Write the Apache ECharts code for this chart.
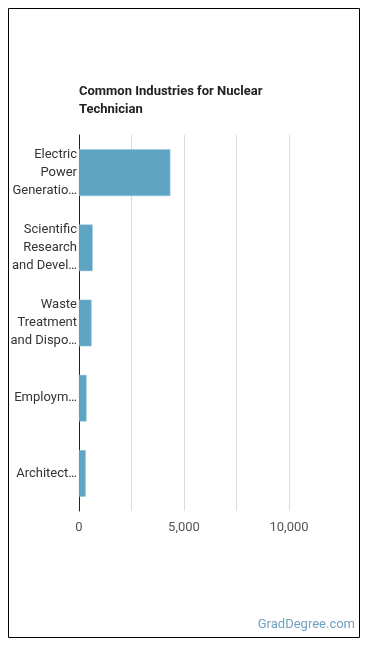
<!DOCTYPE html>
<html>
<head>
<meta charset="utf-8">
<script src="https://cdn.jsdelivr.net/npm/echarts@6/dist/echarts.min.js"></script>
<style>
  html, body { margin: 0; padding: 0; background: #fff; }
  #chart { width: 370px; height: 648px; }
</style>
</head>
<body>
<div id="chart"></div>
<script>
// categories as shown on the axis (already wrapped / cut like the picture)
var industries = [
    'Electric\nPower\nGeneratio…',
    'Scientific\nResearch\nand Devel…',
    'Waste\nTreatment\nand Dispo…',
    'Employm…',
    'Architect…'
];
var workers = [4350, 650, 600, 360, 320];   // rough reading off the bars
var tickValues = [0, 5000, 10000];            // labelled ticks, grid every 2500

var myChart = echarts.init(document.getElementById('chart'));

myChart.setOption({
    animation: false,
    backgroundColor: '#fff',
    graphic: [
        {   // outer frame
            type: 'rect',
            shape: { x: 8.5, y: 8.5, width: 351, height: 629 },
            style: { fill: 'none', stroke: '#000', lineWidth: 1 }
        },
        {
            type: 'text',
            left: 79, top: 83,
            style: {
                text: 'Common Industries for Nuclear\nTechnician',
                font: 'bold 13px Roboto, sans-serif',
                lineHeight: 18,
                fill: '#222'
            }
        },
        {
            type: 'text',
            right: 15, top: 618,
            style: {
                text: 'GradDegree.com',
                font: '13px Roboto, sans-serif',
                fill: '#6fa2c0'
            }
        }
    ],
    grid: { left: 79, right: 81, top: 135, bottom: 137 },
    xAxis: {
        type: 'value',
        min: 0, max: 10000, interval: 2500,
        axisLine: { show: false },
        axisTick: { show: false },
        splitLine: { lineStyle: { color: '#dcdcdc' } },
        axisLabel: {
            color: '#555',
            fontFamily: 'Roboto, sans-serif',
            fontSize: 13,
            margin: 10,
            formatter: function (v) {
                return tickValues.indexOf(v) >= 0 ? echarts.format.addCommas(v) : '';
            }
        }
    },
    yAxis: {
        type: 'category',
        inverse: true,
        data: industries,
        axisLine: { lineStyle: { color: '#222' } },
        axisTick: { show: false },
        axisLabel: {
            color: '#333',
            fontFamily: 'Roboto, sans-serif',
            fontSize: 13,
            lineHeight: 18,
            margin: 2,
            align: 'right'
        }
    },
    series: [{
        type: 'bar',
        data: workers,
        barWidth: '62%',
        itemStyle: { color: '#5ea5c3', borderColor: '#8fc3d9', borderWidth: 0.5 }
    }]
});
</script>
</body>
</html>
